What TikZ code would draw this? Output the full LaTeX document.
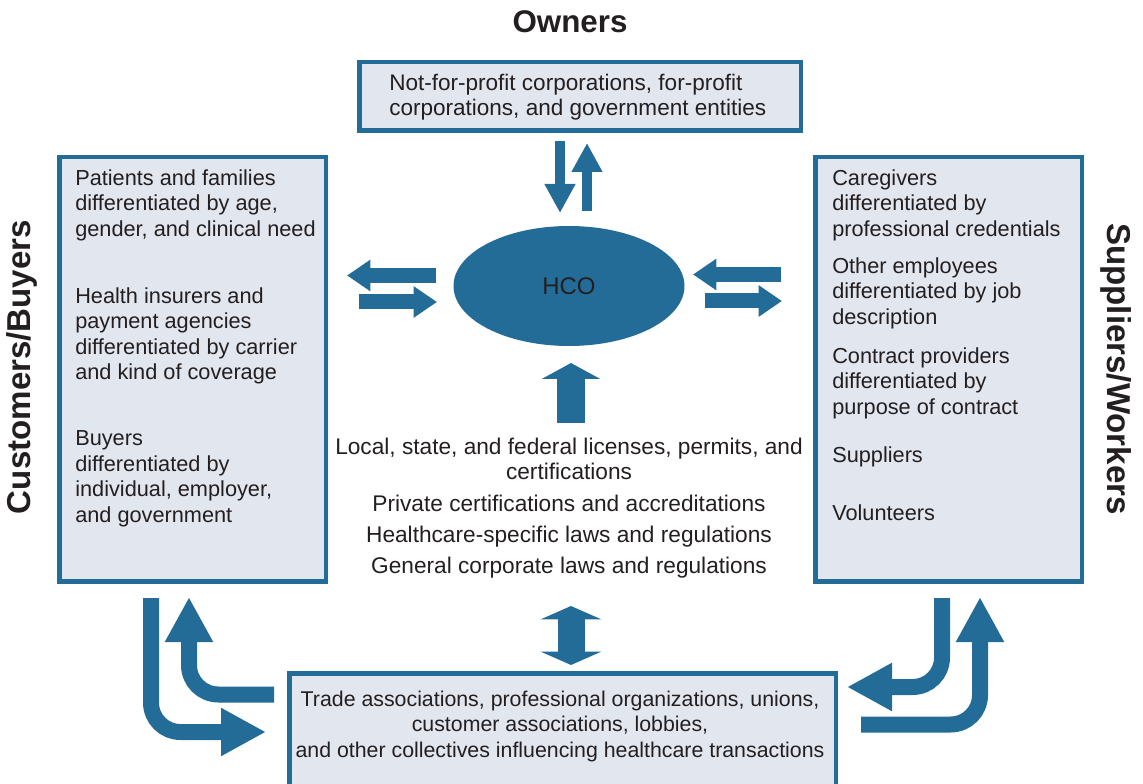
\documentclass[tikz,border=0pt]{standalone}
\usepackage{fontspec}
\setmainfont{Liberation Sans}
\usetikzlibrary{positioning, calc, arrows.meta, shapes.geometric}
\definecolor{hcoblue}{RGB}{36,108,152}
\definecolor{boxfill}{RGB}{226,230,239}
\definecolor{ink}{RGB}{35,31,32}

\begin{document}
\begin{tikzpicture}[
        x=0.75pt, y=-0.75pt,
        every node/.style={
          text=ink, font=\fontsize{16.3}{19.1}\selectfont
        },
        party/.style={
          draw=hcoblue, fill=boxfill, line width=3.5pt, inner sep=0pt
        },
        group/.style={
          align=left, anchor=north west, inner sep=0pt
        },
        heading/.style={
          font=\fontsize{23.5}{26}\selectfont\bfseries
        },
        flow/.style={
          hcoblue, line width=11.25pt, -{Triangle[width=22.5pt, length=17.5pt]}
        },
        thinflow/.style={
          hcoblue, line width=7.5pt, -{Triangle[width=21.75pt, length=21.75pt]}
        },
        bentflow/.style={
          hcoblue, line width=12pt, rounded corners=22pt, -{Triangle[width=33.75pt, length=33.75pt]}
        },
      ]
        \useasboundingbox (0,0) rectangle (1143,784);
        \clip (0,0) rectangle (1143,784);

        % Headings
        \node [heading] (owntitle) at (570,22) {Owners};
        \node [heading, font=\fontsize{24.8}{26}\selectfont\bfseries, rotate=90] (custtitle) at (22,367) {Customers/Buyers};
        \node [heading, font=\fontsize{24.8}{26}\selectfont\bfseries, rotate=-90] (supptitle) at (1116,369) {Suppliers/Workers};

        % Boxes
        \node [party, minimum width=331pt, minimum height=51.4pt] (owners) at (580.4,96.25) {};
        \node [party, minimum width=199.7pt, minimum height=318.4pt] (customers) at (192.9,369.25) {};
        \node [party, minimum width=199.7pt, minimum height=318.4pt] (suppliers) at (948.9,369.25) {};
        \node [party, minimum width=410pt, minimum height=95pt] (collectives) at (562.5,736.5) {};

        % Box texts
        \node [group, font=\fontsize{16.9}{19.1}\selectfont] (owntext) at (389,73.5) {Not-for-profit corporations, for-profit\\corporations, and government entities};
        \node [group] (cust1) at (75,169.5) {Patients and families\\differentiated by age,\\gender, and clinical need};
        \node [group] (cust2) at (75,287.5) {Health insurers and\\payment agencies\\differentiated by carrier\\and kind of coverage};
        \node [group] (cust3) at (75,430.5) {Buyers\\differentiated by\\individual, employer,\\and government};
        \node [group] (supp1) at (832,169.5) {Caregivers\\differentiated by\\professional credentials};
        \node [group] (supp2) at (832,257.5) {Other employees\\differentiated by job\\description};
        \node [group] (supp3) at (832,347.5) {Contract providers\\differentiated by\\purpose of contract};
        \node [group] (supp4) at (832,446.5) {Suppliers};
        \node [group] (supp5) at (832,504.5) {Volunteers};
        \node [align=center, anchor=north, inner sep=0pt, font=\fontsize{16}{19.1}\selectfont] (colltext) at (560,690.5) {Trade associations, professional organizations, unions,\\customer associations, lobbies,\\and other collectives influencing healthcare transactions};

        %HCO
        \node [ellipse, fill=hcoblue, minimum width=173.25pt, minimum height=90pt, font=\fontsize{18}{20}\selectfont] (hco) at (569,286) {HCO};
        \node [align=center, anchor=north, inner sep=0pt, font=\fontsize{17}{19}\selectfont] (rules) at (569,437.5) {Local, state, and federal licenses, permits, and\\certifications\\[4.8pt]Private certifications and accreditations\\[4.5pt]Healthcare-specific laws and regulations\\[4.5pt]General corporate laws and regulations};

        % Arrow ends
        \coordinate (ownA) at (560,141);   \coordinate (hcoA) at (560,213);
        \coordinate (hcoB) at (587,211);   \coordinate (ownB) at (587,143);
        \coordinate (custA) at (436,275.5); \coordinate (custB) at (347,275.5);
        \coordinate (custC) at (359,302);   \coordinate (custD) at (437,302);
        \coordinate (suppA) at (781,274.5); \coordinate (suppB) at (693,274.5);
        \coordinate (suppC) at (705,301);   \coordinate (suppD) at (782,301);
        \coordinate (rulesA) at (571,423);  \coordinate (rulesB) at (571,363);
        \coordinate (collA) at (571,606);   \coordinate (collB) at (571,665);
        \coordinate (bl1) at (151,598);     \coordinate (bl2) at (266,732);
        \coordinate (bl3) at (274,694.5);   \coordinate (bl4) at (189,597);
        \coordinate (br1) at (942,598);     \coordinate (br2) at (847,687);
        \coordinate (br3) at (861,724.5);   \coordinate (br4) at (980,597);

        % Exchanges
        \draw [thinflow] (ownA) -- (hcoA);
        \draw [thinflow] (hcoB) -- (ownB);
        \draw [flow] (custA) -- (custB);
        \draw [flow] (custC) -- (custD);
        \draw [flow] (suppA) -- (suppB);
        \draw [flow] (suppC) -- (suppD);
        \draw [hcoblue, line width=21pt, -{Triangle[width=43.5pt, length=12pt]}] (rulesA) -- (rulesB);
        \draw [hcoblue, line width=20.25pt, {Triangle[width=45pt, length=10pt]}-{Triangle[width=45pt, length=10pt]}] (collA) -- (collB);
        \draw [bentflow] (bl1) |- (bl2);
        \draw [bentflow] (bl3) -| (bl4);
        \draw [bentflow] (br1) |- (br2);
        \draw [bentflow] (br3) -| (br4);

      \end{tikzpicture}
\end{document}
